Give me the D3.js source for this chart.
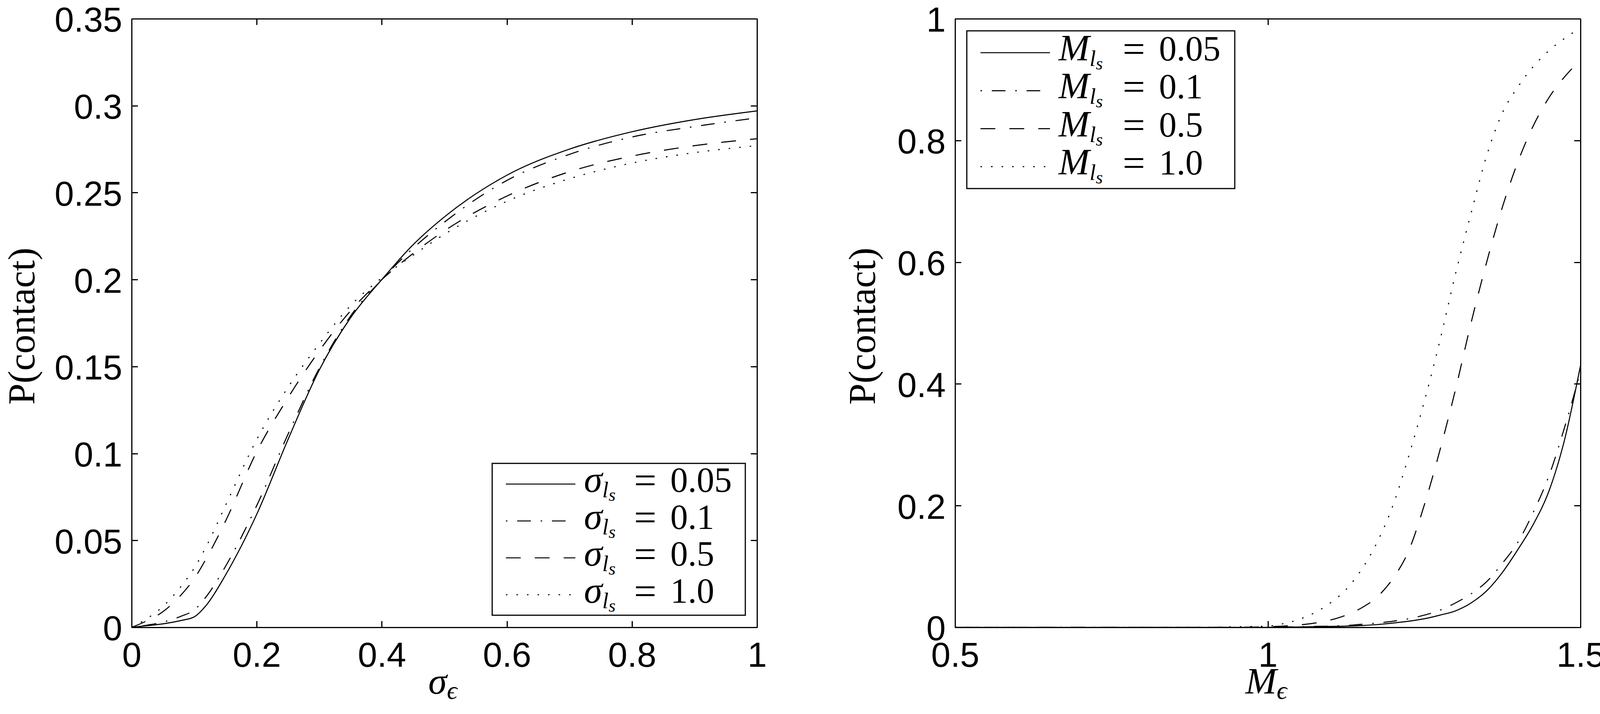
<!DOCTYPE html>
<html lang="en">
<head>
<meta charset="UTF-8">
<title>P(contact)</title>
<script src="https://d3js.org/d3.v7.min.js"></script>
<style>
  html, body { margin: 0; padding: 0; background: #fff; }
  svg { display: block; }
  .tick text { font-family: "Liberation Sans", Arial, sans-serif; font-size: 89px; fill: #000; }
  .math { font-family: "Liberation Serif", "Times New Roman", serif; fill: #000; }
</style>
</head>
<body>
<svg id="fig" width="4120" height="1829"></svg>
<script>
// left panel: P(contact) against sigma_eps
const sigmaEps = [0, 0.02, 0.05, 0.08, 0.1, 0.12, 0.15, 0.2, 0.25, 0.3, 0.35, 0.4, 0.45, 0.5, 0.6, 0.7, 0.8, 0.9, 1.0];
const sigmaLs005 = [0, 0.0008, 0.002, 0.004, 0.006, 0.013, 0.03, 0.065, 0.108, 0.148, 0.178, 0.2, 0.22, 0.236, 0.26, 0.275, 0.285, 0.292, 0.297];
const sigmaLs01  = [0, 0.001, 0.003, 0.0065, 0.01, 0.018, 0.035, 0.07, 0.111, 0.149, 0.179, 0.2, 0.218, 0.233, 0.257, 0.272, 0.282, 0.288, 0.293];
const sigmaLs05  = [0, 0.003, 0.009, 0.019, 0.028, 0.04, 0.061, 0.101, 0.132, 0.159, 0.182, 0.2, 0.215, 0.228, 0.248, 0.262, 0.271, 0.277, 0.281];
const sigmaLs10  = [0, 0.004, 0.012, 0.024, 0.034, 0.047, 0.07, 0.108, 0.138, 0.163, 0.185, 0.201, 0.214, 0.226, 0.245, 0.258, 0.267, 0.273, 0.277];
const sigmaLabels = ["0.05", "0.1", "0.5", "1.0"];
const leftXTicks = [0, 0.2, 0.4, 0.6, 0.8, 1];
const leftXTickLabels = ["0", "0.2", "0.4", "0.6", "0.8", "1"];
const leftYTicks = [0, 0.05, 0.1, 0.15, 0.2, 0.25, 0.3, 0.35];
const leftYTickLabels = ["0", "0.05", "0.1", "0.15", "0.2", "0.25", "0.3", "0.35"];

// right panel: P(contact) against M_eps
const mEps = [0.5, 0.6, 0.7, 0.8, 0.9, 0.95, 1.0, 1.025, 1.05, 1.075, 1.1, 1.125, 1.15, 1.175, 1.2, 1.225, 1.25, 1.275, 1.3, 1.325, 1.35, 1.375, 1.4, 1.425, 1.45, 1.475, 1.5];
const mLs005 = [0, 0, 0, 0, 0, 0, 0, 0.0003, 0.0006, 0.001, 0.0015, 0.002, 0.003, 0.0045, 0.007, 0.01, 0.014, 0.02, 0.027, 0.04, 0.06, 0.09, 0.128, 0.17, 0.225, 0.31, 0.43];
const mLs01  = [0, 0, 0, 0, 0, 0, 0, 0.0005, 0.001, 0.0015, 0.002, 0.003, 0.005, 0.007, 0.01, 0.014, 0.02, 0.028, 0.04, 0.055, 0.075, 0.105, 0.14, 0.19, 0.25, 0.33, 0.42];
const mLs05  = [0, 0, 0, 0, 0, 0, 0.001, 0.002, 0.004, 0.007, 0.012, 0.02, 0.032, 0.05, 0.08, 0.125, 0.2, 0.29, 0.39, 0.5, 0.6, 0.69, 0.765, 0.825, 0.871, 0.905, 0.932];
const mLs10  = [0, 0, 0, 0, 0, 0.001, 0.002, 0.006, 0.013, 0.024, 0.04, 0.062, 0.095, 0.14, 0.2, 0.28, 0.37, 0.47, 0.58, 0.68, 0.775, 0.845, 0.888, 0.922, 0.948, 0.968, 0.985];
const mLabels = ["0.05", "0.1", "0.5", "1.0"];
const rightXTicks = [0.5, 1, 1.5];
const rightXTickLabels = ["0.5", "1", "1.5"];
const rightYTicks = [0, 0.2, 0.4, 0.6, 0.8, 1];
const rightYTickLabels = ["0", "0.2", "0.4", "0.6", "0.8", "1"];

// line styles: solid, dash-dot, dashed, dotted
const dashes = [null, "4,25,35,25", "38,36", "4,23"];

const svg = d3.select("#fig");

function drawPanel(cfg) {
    const x = d3.scaleLinear().domain(cfg.xDomain).range([cfg.left, cfg.right]);
    const y = d3.scaleLinear().domain(cfg.yDomain).range([cfg.bottom, cfg.top]);
    const g = svg.append("g");

    // curves
    const line = d3.line()
        .x((d, i) => x(cfg.xs[i]))
        .y(d => y(d))
        .curve(d3.curveMonotoneX);
    cfg.series.forEach((s, k) => {
        g.append("path")
            .attr("d", line(s))
            .attr("fill", "none")
            .attr("stroke", "#000")
            .attr("stroke-width", 2.7)
            .attr("stroke-dasharray", dashes[k]);
    });

    // axes, ticks inward on all four sides
    g.append("g").attr("transform", `translate(0,${cfg.bottom})`)
        .call(d3.axisBottom(x).tickValues(cfg.xTicks).tickFormat((d, i) => cfg.xTickLabels[i])
            .tickSizeInner(-16).tickSizeOuter(0).tickPadding(38));
    const left = g.append("g").attr("transform", `translate(${cfg.left},0)`)
        .call(d3.axisLeft(y).tickValues(cfg.yTicks).tickFormat((d, i) => cfg.yTickLabels[i])
            .tickSizeInner(-16).tickSizeOuter(0).tickPadding(24));
    left.selectAll(".tick text").attr("dy", "0.37em");
    g.append("g").attr("transform", `translate(0,${cfg.top})`)
        .call(d3.axisTop(x).tickValues(cfg.xTicks).tickFormat("").tickSizeInner(-16).tickSizeOuter(0));
    g.append("g").attr("transform", `translate(${cfg.right},0)`)
        .call(d3.axisRight(y).tickValues(cfg.yTicks).tickFormat("").tickSizeInner(-16).tickSizeOuter(0));
    g.selectAll(".domain, .tick line")
        .attr("stroke", "#000").attr("stroke-width", 3).attr("shape-rendering", "crispEdges");

    // y label
    g.append("text").attr("class", "math")
        .attr("transform", `translate(${cfg.left - cfg.yLabOff},${(cfg.top + cfg.bottom) / 2 + 8}) rotate(-90)`)
        .attr("text-anchor", "middle")
        .attr("font-size", 98)
        .text("P(contact)");

    // x label with subscript epsilon
    const xl = g.append("text").attr("class", "math")
        .attr("x", (cfg.left + cfg.right) / 2 - 4)
        .attr("y", cfg.bottom + 170)
        .attr("text-anchor", "middle")
        .attr("font-size", 96);
    xl.append("tspan").attr("font-style", "italic").text(cfg.sym);
    xl.append("tspan").attr("font-style", "italic").attr("font-size", 66).attr("dy", 13).text("\u03F5");

    // legend
    const lg = g.append("g").attr("transform", `translate(${cfg.legX},${cfg.legY})`);
    lg.append("rect")
        .attr("width", cfg.legW).attr("height", cfg.legH)
        .attr("fill", "#fff").attr("stroke", "#000").attr("stroke-width", 3);
    cfg.labels.forEach((lab, k) => {
        const ly = cfg.row0 + cfg.rowGap * k;
        lg.append("line")
            .attr("x1", 35).attr("x2", 213).attr("y1", ly).attr("y2", ly)
            .attr("stroke", "#000").attr("stroke-width", 2.7)
            .attr("stroke-dasharray", dashes[k]);
        const t = lg.append("text").attr("class", "math")
            .attr("x", 235).attr("y", ly + 20).attr("font-size", 92);
        t.append("tspan").attr("font-style", "italic").attr("font-size", 95).text(cfg.sym);
        t.append("tspan").attr("font-style", "italic").attr("font-size", 58).attr("dy", 14).text("l");
        t.append("tspan").attr("font-style", "italic").attr("font-size", 46).attr("dy", 9).text("s");
        t.append("tspan").attr("x", 235 + cfg.eqOff).attr("dy", -19).attr("font-size", 102).text("=");
        t.append("tspan").attr("x", 235 + cfg.eqOff + 93).attr("dy", -4).attr("font-size", 90).text(lab);
    });
}

drawPanel({
    left: 337, right: 1938, top: 48, bottom: 1607,
    xDomain: [0, 1], yDomain: [0, 0.35],
    xs: sigmaEps, series: [sigmaLs005, sigmaLs01, sigmaLs05, sigmaLs10],
    xTicks: leftXTicks, xTickLabels: leftXTickLabels,
    yTicks: leftYTicks, yTickLabels: leftYTickLabels,
    sym: "\u03C3", labels: sigmaLabels, yLabOff: 249,
    legX: 1260, legY: 1187, legW: 648, legH: 389, row0: 53, rowGap: 94.5, eqOff: 128
});

drawPanel({
    left: 2445, right: 4046, top: 48, bottom: 1607,
    xDomain: [0.5, 1.5], yDomain: [0, 1],
    xs: mEps, series: [mLs005, mLs01, mLs05, mLs10],
    xTicks: rightXTicks, xTickLabels: rightXTickLabels,
    yTicks: rightYTicks, yTickLabels: rightYTickLabels,
    sym: "M", labels: mLabels, yLabOff: 205,
    legX: 2475, legY: 79, legW: 686, legH: 404, row0: 56, rowGap: 97.3, eqOff: 164
});
</script>
</body>
</html>
